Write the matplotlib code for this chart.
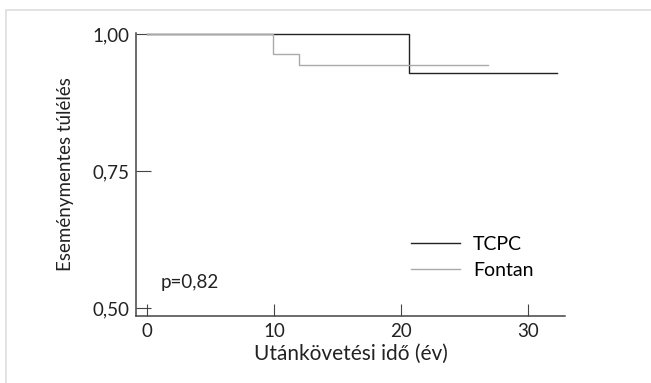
import matplotlib
matplotlib.use("Agg")
import matplotlib.pyplot as plt
from matplotlib.patches import Rectangle

# Kaplan-Meier step data
tcpc_time = [0, 20.6, 20.6, 32.3]
tcpc_surv = [1.0, 1.0, 0.929, 0.929]
fontan_time = [0, 9.9, 9.9, 12.0, 12.0, 26.8]
fontan_surv = [1.0, 1.0, 0.963, 0.963, 0.944, 0.944]

x_ticks = [0, 10, 20, 30]
y_ticks = [0.50, 0.75, 1.00]
y_tick_labels = ["0,50", "0,75", "1,00"]

plt.rcParams["font.family"] = ["Lato", "DejaVu Sans"]
axis_col = "#444444"
text_col = "#222222"

fig = plt.figure(figsize=(6.51, 3.83), dpi=100)
fig.patches.append(Rectangle((6 / 651, -0.1), 2, 1 - 10 / 383 + 0.1, transform=fig.transFigure,
                             fill=False, edgecolor="#dddddd", linewidth=1.2))
ax = fig.add_axes([136 / 651, 1 - 316 / 383, (565 - 136) / 651, (316 - 33) / 383])

ax.plot(tcpc_time, tcpc_surv, color="#222222", linewidth=1.0, label="TCPC")
ax.plot(fontan_time, fontan_surv, color="#aaaaaa", linewidth=1.0, label="Fontan")

ax.set_xlim(-0.87, 32.9)
ax.set_ylim(0.4854, 1.002)
ax.set_xticks(x_ticks)
ax.set_yticks(y_ticks)
ax.set_yticklabels(y_tick_labels)
ax.tick_params(direction="in", color=axis_col, labelsize=13.5, labelcolor=text_col)
ax.tick_params(axis="y", length=11, pad=5)
ax.tick_params(axis="x", length=9, pad=5)
for side in ["top", "right"]:
    ax.spines[side].set_visible(False)
for side in ["left", "bottom"]:
    ax.spines[side].set_color(axis_col)
    ax.spines[side].set_linewidth(1.1)

ax.set_xlabel("Utánkövetési idő (év)", fontsize=15, color=text_col, labelpad=3)
ax.set_ylabel("Eseménymentes túlélés", fontsize=13.5, color=text_col, labelpad=13)
ax.text(1.1, 0.546, "p=0,82", fontsize=13.5, color=text_col, va="center")

ax.legend(loc="upper left", bbox_to_anchor=(0.6, 0.345), frameon=False, fontsize=14,
          handlelength=2.5, handletextpad=0.7, labelspacing=0.45)

fig.savefig("out.png", dpi=100)
